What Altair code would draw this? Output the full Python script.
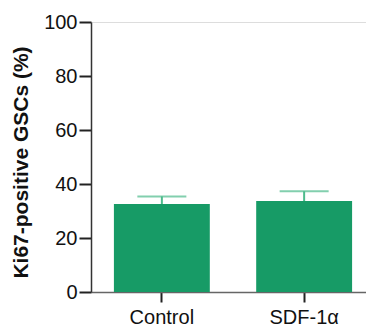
import altair as alt
import pandas as pd

groups = ["Control", "SDF-1α"]
means = [32.6, 33.7]
errors = [2.8, 3.6]

df = pd.DataFrame({
    "group": groups,
    "mean": means,
    "upper": [m + e for m, e in zip(means, errors)],
})

GREEN = "#179b66"
FONT = "Liberation Sans"

x = alt.X("group:N", sort=groups,
          scale=alt.Scale(paddingInner=0.326, paddingOuter=0.161, range=[0, 284]),
          axis=alt.Axis(title=None, labelAngle=0, labelFont=FONT, labelFontSize=20,
                        labelColor="#111", labelPadding=5, tickSize=10, tickColor="#222",
                        tickWidth=2, domainColor="#666", domainWidth=1.5))
y_axis = alt.Axis(title="Ki67-positive GSCs (%)", values=[0, 20, 40, 60, 80, 100],
                  grid=False, labelFont=FONT, labelFontSize=20, labelColor="#111",
                  labelPadding=2, tickSize=12, tickColor="#222", tickWidth=2,
                  domainColor="#333", domainWidth=1.5,
                  titleFont=FONT, titleFontSize=21, titleFontWeight="bold",
                  titleColor="#111", titlePadding=12, titleY=140)

bars = alt.Chart(df).mark_bar(color=GREEN).encode(
    x=x,
    y=alt.Y("mean:Q", scale=alt.Scale(domain=[0, 100], nice=False), axis=y_axis),
)
rule = alt.Chart(df).mark_rule(color="#4dbb8c", strokeWidth=2).encode(
    x=alt.X("group:N", sort=groups), y="mean:Q", y2="upper:Q"
)
cap = alt.Chart(df).mark_tick(color="#4dbb8c", thickness=2, size=49).encode(
    x=alt.X("group:N", sort=groups), y="upper:Q"
)

chart = alt.layer(bars, rule, cap).properties(
    width=275, height=270,
    autosize=alt.AutoSizeParams(type="none"),
    padding={"left": 83, "top": 14, "right": 0, "bottom": 36},
).configure_view(stroke=None).configure(background="white")

chart.save("out.html", embed_options={"renderer": "svg", "actions": False})
